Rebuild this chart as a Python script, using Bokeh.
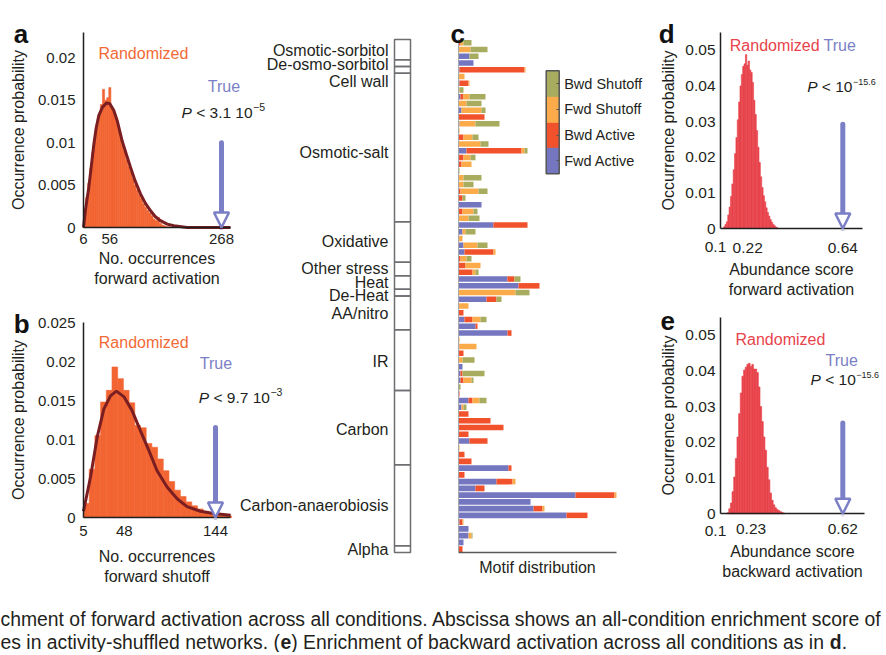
import numpy as np
from bokeh.plotting import figure
from bokeh.layouts import row, column
from bokeh.models import (Range1d, FixedTicker, NumeralTickFormatter, Label, Arrow,
                          NormalHead, ColumnDataSource, ColorBar, CategoricalColorMapper)
from bokeh.embed import file_html
from bokeh.resources import INLINE
from bokeh.core.properties import value

FONT = "Liberation Sans"
INK = "#231f20"
AXIS = "#1f1f1f"

# ---------------- data ----------------
# (a) forward activation: occurrences in randomized networks
a_bin_start = 6
a_bin_width = 4
a_hist = [0.0015, 0.0035, 0.0052, 0.0070, 0.0089, 0.0106, 0.0122, 0.0134, 0.0145, 0.0163,
          0.0150, 0.0153, 0.0165, 0.0142, 0.0136, 0.0128, 0.0118, 0.0109, 0.0098, 0.0090,
          0.0080, 0.0072, 0.0066, 0.0058, 0.0050, 0.0044, 0.0039, 0.0034, 0.0028, 0.0024,
          0.0020, 0.0017, 0.0014, 0.0010, 0.0008, 0.0012, 0.0005, 0.0003, 0.0002, 0.0001, 0.0001]
a_fit_x = [6, 10, 16, 20, 25.6, 30, 35, 42, 50, 56, 63.6, 70, 79.4, 87, 95.2, 104, 114, 123,
           133, 142, 152, 165, 177.5, 203, 285]
a_fit_y = [0, 0.0022, 0.0047, 0.0068, 0.0098, 0.0117, 0.0132, 0.0142, 0.0147, 0.0146, 0.0138,
           0.0126, 0.0102, 0.0087, 0.0071, 0.0055, 0.0040, 0.0029, 0.0020, 0.0013, 0.0008,
           0.0004, 0.0002, 0.0, 0.0]
a_xticks = [6, 56, 268]
a_yticks = [0, 0.005, 0.01, 0.015, 0.02]
a_xmax, a_ymax = 285, 0.023
a_true = 268

# (b) forward shutoff
b_bin_start = 5
b_bin_width = 6
b_hist = [0.0018, 0.0062, 0.0105, 0.0148, 0.0163, 0.0193, 0.0178, 0.0163, 0.0147, 0.0118,
          0.0115, 0.0095, 0.0090, 0.0075, 0.0060, 0.0046, 0.0035, 0.0027, 0.0020, 0.0015,
          0.0011, 0.0008, 0.0006, 0.0004, 0.0003, 0.0002]
b_fit_x = [5, 12.4, 19.4, 26.4, 33.4, 39.7, 47.4, 56.2, 65, 73.8, 82.5, 93, 103.6, 114, 128, 142, 160]
b_fit_y = [0.0008, 0.0052, 0.0103, 0.0139, 0.0156, 0.0162, 0.0155, 0.0137, 0.0111, 0.0086,
           0.0060, 0.0039, 0.0024, 0.0014, 0.0008, 0.0005, 0.0003]
b_xticks = [5, 48, 144]
b_yticks = [0, 0.005, 0.01, 0.015, 0.02, 0.025]
b_xmax, b_ymax = 160, 0.025
b_true = 144

# (c) motif distribution per condition
fwd_active = [0, 0, 11, 15, 1, 0, 1, 0, 2, 0, 3, 0, 1, 0, 0, 0, 8, 0, 0, 0,
              0, 0, 0, 0, 23, 0, 0, 35, 4, 0, 5, 6, 0, 0, 0, 49, 60, 0, 28, 0,
              0, 6, 17, 49, 0, 0, 0, 0, 4, 2, 2, 0, 0, 10, 3, 0, 0, 0, 0, 11,
              0, 0, 0, 50, 0, 38, 17, 117, 72, 75, 108, 1, 10, 10, 5, 0]
bwd_active = [2, 0, 0, 0, 65, 0, 9, 0, 3, 0, 0, 26, 0, 0, 5, 0, 55, 5, 3, 0,
              0, 0, 2, 4, 0, 4, 0, 34, 0, 0, 0, 29, 2, 7, 14, 7, 21, 0, 10, 0,
              5, 8, 2, 4, 0, 1, 5, 0, 0, 2, 3, 0, 1, 4, 0, 10, 32, 45, 10, 18,
              0, 6, 13, 3, 6, 16, 9, 39, 0, 9, 21, 3, 0, 0, 0, 4]
fwd_shutoff = [3, 12, 0, 0, 1, 6, 1, 1, 6, 8, 20, 0, 16, 1, 9, 22, 3, 7, 10, 0,
               5, 5, 18, 0, 0, 11, 10, 0, 3, 4, 14, 2, 6, 15, 3, 0, 0, 57, 0, 10,
               0, 8, 0, 0, 1, 17, 0, 4, 0, 0, 8, 0, 0, 7, 2, 0, 0, 0, 0, 0,
               1, 0, 0, 0, 0, 3, 0, 2, 0, 2, 0, 1, 0, 3, 0, 0]
bwd_shutoff = [8, 17, 9, 0, 0, 0, 0, 4, 16, 15, 4, 0, 24, 0, 6, 8, 3, 5, 0, 1,
               18, 10, 9, 3, 0, 4, 11, 0, 10, 0, 10, 0, 5, 0, 3, 6, 0, 14, 5, 0,
               0, 6, 0, 0, 0, 0, 0, 12, 0, 22, 2, 2, 0, 7, 3, 0, 0, 0, 0, 0,
               0, 0, 0, 0, 0, 0, 0, 0, 0, 0, 0, 0, 0, 1, 0, 0]
c_xmax = 158
conditions = ["Osmotic-sorbitol", "De-osmo-sorbitol", "Cell wall", "Osmotic-salt", "Oxidative",
              "Other stress", "Heat", "De-Heat", "AA/nitro", "IR", "Carbon",
              "Carbon-anaerobiosis", "Alpha"]
condition_sizes = [3, 1, 1, 22, 6, 2, 2, 1, 5, 9, 11, 12, 1]
motif_types = ["Fwd Active", "Bwd Active", "Fwd Shutoff", "Bwd Shutoff"]

# (d) abundance score, forward activation
d_bin_start = 0.114
d_bin_width = 0.006
d_hist = [0.0005, 0.0012, 0.0019, 0.0038, 0.0060, 0.0090, 0.0125, 0.0165, 0.0210, 0.0255,
          0.0305, 0.0355, 0.0400, 0.0432, 0.0455, 0.0462, 0.0488, 0.0458, 0.0470, 0.0445,
          0.0438, 0.0410, 0.0360, 0.0320, 0.0275, 0.0228, 0.0185, 0.0145, 0.0115, 0.0092,
          0.0075, 0.0058, 0.0045, 0.0035, 0.0025, 0.0018, 0.0012, 0.0008, 0.0004, 0.0002]
d_xticks = [0.1, 0.22, 0.64]
d_xmax = 0.727
d_true = 0.64

# (e) abundance score, backward activation
e_bin_start = 0.128
e_bin_width = 0.007
e_hist = [0.0003, 0.0014, 0.0030, 0.0062, 0.0103, 0.0155, 0.0215, 0.0280, 0.0338, 0.0385,
          0.0402, 0.0410, 0.0418, 0.0421, 0.0412, 0.0418, 0.0405, 0.0405, 0.0395, 0.0355,
          0.0300, 0.0258, 0.0215, 0.0178, 0.0130, 0.0095, 0.0058, 0.0038, 0.0025, 0.0017,
          0.0012, 0.0009, 0.0006, 0.0004, 0.0002]
e_xticks = [0.1, 0.23, 0.62]
e_xmax = 0.712
e_true = 0.62
de_yticks = [0, 0.01, 0.02, 0.03, 0.04, 0.05]
de_ymax = 0.055

caption_line1 = ("chment of forward activation across all conditions. Abscissa shows an "
                 "all-condition enrichment score of")
caption_line2 = [("es in activity-shuffled networks. (", False), ("e", True),
                 (") Enrichment of backward activation across all conditions as in ", False),
                 ("d", True), (".", False)]

# ---------------- colours ----------------
C_HIST_AB = "#f26532"
C_FIT = "#7b1e22"
C_HIST_DE = "#e8434b"
C_TRUE = "#7b7fc5"
C_RAND_AB = "#f26a36"
C_FA, C_BA, C_FS, C_BS = "#7476c0", "#f2522b", "#fbab4a", "#a8ac5f"

# ---------------- text metrics (Arial / Liberation Sans) ----------------
WID = {' ': 278, '!': 278, '(': 333, ')': 333, ',': 278, '-': 333, '.': 278, '/': 278,
       ':': 278, '<': 584, '\u2212': 584}
for ch in "0123456789":
    WID[ch] = 556
WID.update(dict(zip("ABCDEFGHIJKLMNOPQRSTUVWXYZ",
                    [667, 667, 722, 722, 667, 611, 778, 722, 278, 500, 667, 556, 833, 722, 778,
                     667, 778, 722, 667, 611, 722, 667, 944, 667, 667, 611])))
WID.update(dict(zip("abcdefghijklmnopqrstuvwxyz",
                    [556, 556, 500, 556, 556, 278, 556, 556, 222, 222, 500, 222, 833, 556, 556,
                     556, 556, 333, 500, 278, 556, 500, 722, 500, 500, 500])))
WID_BOLD = {'d': 611, 'e': 556}


def text_width(s, size, bold=False):
    tab = dict(WID)
    if bold:
        tab.update(WID_BOLD)
    return sum(tab.get(c, 556) for c in s) * size / 1000.0


def put_text(p, x, y, text, size, color=INK, style="normal", align="left", baseline="middle"):
    p.add_layout(Label(x=x, y=y, x_units="screen", y_units="screen", text=text,
                       text_font=FONT, text_font_size=f"{size}px", text_color=color,
                       text_font_style=style, text_align=align, text_baseline=baseline))


def put_pvalue(p, x, y, body, sup, size=15.5, sup_size=10.5, lift=5):
    put_text(p, x, y, "P", size, style="italic")
    x2 = x + text_width("P ", size)
    put_text(p, x2, y, body, size)
    x3 = x2 + text_width(body, size) + 0.5
    put_text(p, x3, y + lift, sup, sup_size)


# pixel geometry helpers: the whole canvas is the plot frame, axes sit at fixed locations
def px_range(W, p0, p1, v0, v1):
    s = (p1 - p0) / (v1 - v0)
    return Range1d(v0 - p0 / s, v0 + (W - p0) / s)


def py_range(H, p0, p1, v0, v1):
    s = (p0 - p1) / (v1 - v0)
    return Range1d(v0 - (H - p0) / s, v0 + p0 / s)


def bare_fig(W, H, xr, yr, axes=True):
    kw = {} if axes else dict(x_axis_type=None, y_axis_type=None)
    p = figure(width=W, height=H, x_range=xr, y_range=yr, toolbar_location=None,
               output_backend="svg", min_border_left=0, min_border_right=0,
               min_border_top=0, min_border_bottom=0, **kw)
    p.outline_line_color = None
    p.grid.visible = False
    p.background_fill_color = None
    p.border_fill_color = None
    return p


def style_axes(p, tick_size, y_std, y_lab_std, x_std, x_lab_std, line_w=1.5):
    for ax in (p.xaxis[0], p.yaxis[0]):
        ax.axis_line_color = AXIS
        ax.axis_line_width = line_w
        ax.major_tick_in = 0
        ax.major_tick_out = 0
        ax.minor_tick_line_color = None
        ax.major_label_text_font = FONT
        ax.major_label_text_font_size = tick_size
        ax.major_label_text_color = INK
        ax.axis_label_text_font = FONT
        ax.axis_label_text_font_size = "16px"
        ax.axis_label_text_font_style = "normal"
        ax.axis_label_text_color = INK
    p.yaxis[0].major_label_standoff = y_std
    p.yaxis[0].axis_label_standoff = y_lab_std
    p.xaxis[0].major_label_standoff = x_std
    p.xaxis[0].axis_label_standoff = x_lab_std


def place_axes(p, xlo, xhi, ylo, yhi):
    p.xaxis[0].fixed_location = ylo
    p.xaxis[0].bounds = (xlo, xhi)
    p.yaxis[0].fixed_location = xlo
    p.yaxis[0].bounds = (min(ylo, yhi), max(ylo, yhi))


def add_hist(p, start, width, vals, color):
    left = start + width * np.arange(len(vals))
    p.quad(left=left, right=left + width, bottom=0, top=vals, fill_color=color,
           line_color=color, line_width=0.6)


def add_true_arrow(p, x, top):
    p.add_layout(Arrow(end=NormalHead(size=15, fill_color="white", line_color=C_TRUE,
                                      line_width=2.5),
                       x_start=x, y_start=top, x_end=x, y_end=0,
                       line_color=C_TRUE, line_width=5, line_cap="round"))


# ---------------- panel a (canvas 0..290 x 0..290) ----------------
fa = bare_fig(290, 290, px_range(290, 83, 221, a_xticks[0], a_true),
              py_range(290, 227, 32, 0, a_ymax))
add_hist(fa, a_bin_start, a_bin_width, a_hist, C_HIST_AB)
fa.line(a_fit_x, a_fit_y, line_color=C_FIT, line_width=3)
fa.xaxis.ticker = FixedTicker(ticks=a_xticks)
fa.yaxis.ticker = FixedTicker(ticks=a_yticks)
fa.yaxis.formatter = NumeralTickFormatter(format="0.[000]")
fa.xaxis.axis_label = "No. occurrences\nforward activation"
fa.yaxis.axis_label = "Occurrence probability"
style_axes(fa, "15px", 8, 8, 6, 3)
place_axes(fa, a_xticks[0], a_xmax, 0, a_ymax)
add_true_arrow(fa, a_true, 0.0100)
put_text(fa, 98, 236.7, "Randomized", 16, C_RAND_AB)
put_text(fa, 207.3, 204, "True", 16, C_TRUE)
put_pvalue(fa, 181, 178.3, "< 3.1 10", "\u22125")
put_text(fa, 13.3, 256.7, "a", 26, "#111111", style="bold", baseline="alphabetic")

# ---------------- panel b (canvas 0..290 x 290..597) ----------------
fb = bare_fig(290, 307, px_range(290, 83, 215, b_xticks[0], b_true),
              py_range(307, 227, 32, 0, b_ymax))
add_hist(fb, b_bin_start, b_bin_width, b_hist, C_HIST_AB)
fb.line(b_fit_x, b_fit_y, line_color=C_FIT, line_width=3)
fb.xaxis.ticker = FixedTicker(ticks=b_xticks)
fb.yaxis.ticker = FixedTicker(ticks=b_yticks)
fb.yaxis.formatter = NumeralTickFormatter(format="0.[000]")
fb.xaxis.axis_label = "No. occurrences\nforward shutoff"
fb.yaxis.axis_label = "Occurrence probability"
style_axes(fb, "15px", 8, 8, 8, 9)
place_axes(fb, b_xticks[0], b_xmax, 0, b_ymax)
add_true_arrow(fb, b_true, 0.01154)
put_text(fb, 98.3, 255.3, "Randomized", 16, C_RAND_AB)
put_text(fb, 199.3, 233.7, "True", 16, C_TRUE)
put_pvalue(fb, 198.3, 200.3, "< 9.7 10", "\u22123")
put_text(fb, 13.3, 273.7, "b", 26, "#111111", style="bold", baseline="alphabetic")

# ---------------- condition column (canvas 235..412) + panel c (412..645) ----------------
n_rows = len(fwd_active)
rows_y = np.arange(n_rows) + 0.5
yr_c = py_range(597, 552, 38.9, n_rows, 0)
edges = np.concatenate([[0], np.cumsum(condition_sizes)])
label_nudge = [1, 1, 12, 5, 0, 0, 0, 3, 1, 1, 2, 0, 0]

flab = bare_fig(177, 597, Range1d(-177, 0), yr_c, axes=False)
flab.margin = (0, 0, 0, -55)
flab.quad(left=-18, right=-2, top=edges[:-1], bottom=edges[1:], fill_color=None,
          line_color="#6d6e71", line_width=1.5)
lab_src = ColumnDataSource(dict(y=(edges[:-1] + edges[1:]) / 2, text=conditions, dy=label_nudge))
flab.text(x=-24, y="y", text="text", y_offset="dy", source=lab_src, text_align="right",
          text_baseline="middle", text_font=value(FONT), text_font_size="16px", text_color=INK)

fc = bare_fig(233, 597, px_range(233, 46, 204, 0, c_xmax), yr_c)
src_c = ColumnDataSource(dict(row=rows_y, fa=fwd_active, ba=bwd_active, fs=fwd_shutoff,
                              bs=bwd_shutoff))
fc.hbar_stack(["fa", "ba", "fs", "bs"], y="row", height=0.82, source=src_c,
              fill_color=[C_FA, C_BA, C_FS, C_BS], line_color=None)
fc.xaxis.ticker = FixedTicker(ticks=[])
fc.yaxis.ticker = FixedTicker(ticks=[])
fc.xaxis.axis_label = "Motif distribution"
style_axes(fc, "15px", 0, 0, 0, 6)
place_axes(fc, 0, c_xmax, n_rows, 0)
fc.xaxis[0].axis_line_color = "#58595b"
fc.yaxis[0].axis_line_color = "#a7a9ac"
fc.yaxis[0].axis_line_width = 1
mapper = CategoricalColorMapper(factors=motif_types, palette=[C_FA, C_BA, C_FS, C_BS])
cbar = ColorBar(color_mapper=mapper, orientation="vertical", width=13, height=103,
                location=(133.7, 423.7), padding=0, margin=0, bar_line_color="#555555",
                bar_line_width=1.5, major_tick_in=3, major_tick_out=0,
                major_tick_line_color="#555555", major_label_text_font=FONT,
                major_label_text_font_size="14.5px", major_label_text_color=INK,
                label_standoff=5, background_fill_color=None, border_line_color=None)
fc.add_layout(cbar)
put_text(fc, 38, 563.7, "c", 26, "#111111", style="bold", baseline="alphabetic")

# ---------------- panel d (canvas 645..884 x 0..298) ----------------
fd = bare_fig(239, 298, px_range(239, 75, 197.3, d_xticks[0], d_true),
              py_range(298, 228, 32, 0, de_ymax))
add_hist(fd, d_bin_start, d_bin_width, d_hist, C_HIST_DE)
fd.xaxis.ticker = FixedTicker(ticks=d_xticks[1:])
fd.yaxis.ticker = FixedTicker(ticks=de_yticks)
fd.xaxis.formatter = NumeralTickFormatter(format="0.[00]")
fd.yaxis.formatter = NumeralTickFormatter(format="0.[00]")
fd.xaxis.axis_label = "Abundance score\nforward activation"
fd.yaxis.axis_label = "Occurrence probability"
style_axes(fd, "15.5px", 5, 5, 14, 5)
place_axes(fd, d_xticks[0], d_xmax, 0, de_ymax)
# first tick label sits left of the axis start, as in the original figure
put_text(fd, 70, 51.5, f"{d_xticks[0]:g}", 15.5, align="center")
add_true_arrow(fd, d_true, 0.02924)
put_text(fd, 84.3, 253, "Randomized", 16, C_HIST_DE)
put_text(fd, 178, 253, "True", 16, C_TRUE)
put_pvalue(fd, 161.7, 212, "< 10", "\u221215.6", sup_size=9)
put_text(fd, 13.3, 264.7, "d", 26, "#111111", style="bold", baseline="alphabetic")

# ---------------- panel e (canvas 645..884 x 298..597) ----------------
fe = bare_fig(239, 299, px_range(239, 75, 197.3, e_xticks[0], e_true),
              py_range(299, 215.3, 18.7, 0, de_ymax))
add_hist(fe, e_bin_start, e_bin_width, e_hist, C_HIST_DE)
fe.xaxis.ticker = FixedTicker(ticks=e_xticks[1:])
fe.yaxis.ticker = FixedTicker(ticks=de_yticks)
fe.xaxis.formatter = NumeralTickFormatter(format="0.[00]")
fe.yaxis.formatter = NumeralTickFormatter(format="0.[00]")
fe.xaxis.axis_label = "Abundance score\nbackward activation"
fe.yaxis.axis_label = "Occurrence probability"
style_axes(fe, "15.5px", 5, 5, 10, 6)
place_axes(fe, e_xticks[0], e_xmax, 0, de_ymax)
put_text(fe, 70, 66.3, f"{e_xticks[0]:g}", 15.5, align="center")
add_true_arrow(fe, e_true, 0.0254)
put_text(fe, 90, 258, "Randomized", 16, C_HIST_DE)
put_text(fe, 180, 237, "True", 16, C_TRUE)
put_pvalue(fe, 165, 217.7, "< 10", "\u221215.6", sup_size=9)
put_text(fe, 15, 277, "e", 26, "#111111", style="bold", baseline="alphabetic")

# ---------------- caption (canvas 0..884 x 597..652) ----------------
fcap = bare_fig(884, 55, Range1d(0, 884), Range1d(0, 55), axes=False)
cap_size = round(882 / text_width(caption_line1, 1), 2)
put_text(fcap, 0, 34, caption_line1, cap_size)
xpos = 0
for txt, bold in caption_line2:
    put_text(fcap, xpos, 11, txt, cap_size, style="bold" if bold else "normal")
    xpos += text_width(txt, cap_size, bold)

layout = column(row(column(fa, fb), flab, fc, column(fd, fe)), fcap)

open("out.html", "w").write(file_html(layout, INLINE))
